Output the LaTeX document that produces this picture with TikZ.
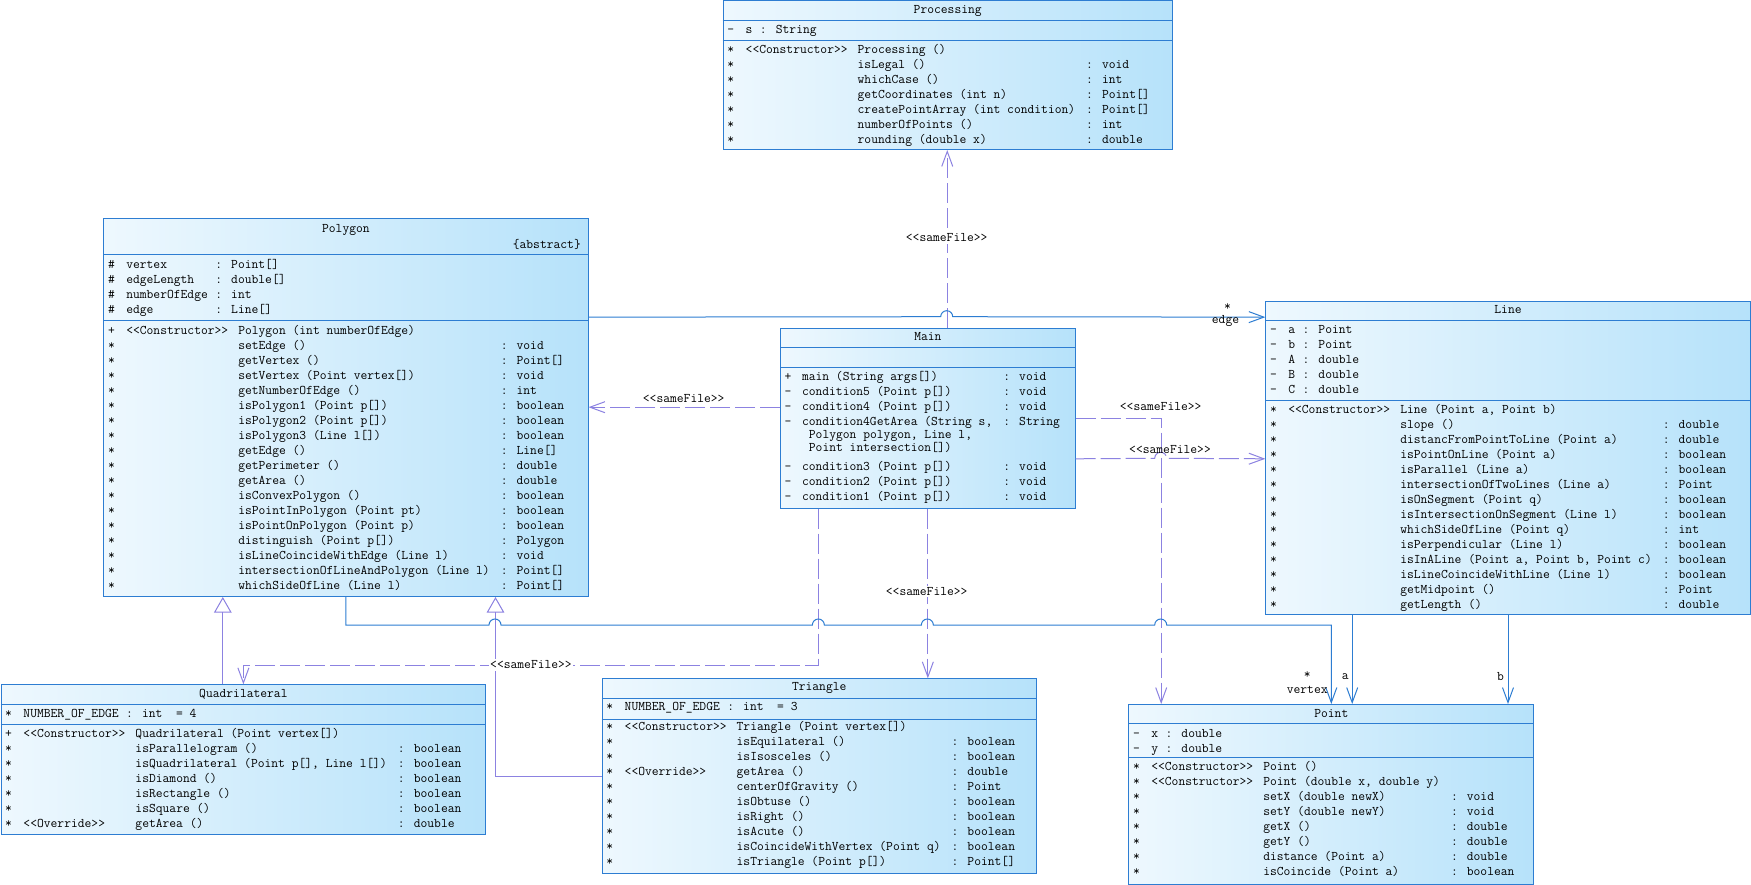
\documentclass[tikz,border=0pt]{standalone}
\usepackage{fontspec}
\usepackage{array}
\usetikzlibrary{arrows.meta}

\definecolor{boxblue}{RGB}{45,125,210}
\definecolor{deplav}{RGB}{140,130,225}
\definecolor{shadeL}{RGB}{238,248,254}
\definecolor{shadeR}{RGB}{182,226,250}

\newcommand{\umlfont}{\fontsize{13.2}{15}\selectfont\ttfamily}
% rows: visibility, stereotype, name, type
\newenvironment{mrows}{\begin{tabular}[t]{@{}l@{\hspace{11.5pt}}l@{\hspace{10pt}}l@{\hspace{11pt}}l@{}}}{\end{tabular}}
% rows without stereotype
\newenvironment{nrows}{\begin{tabular}[t]{@{}l@{\hspace{10.5pt}}l@{\hspace{11pt}}l@{}}}{\end{tabular}}
% attribute rows
\newenvironment{arows}{\begin{tabular}[t]{@{}l@{\hspace{11.5pt}}l@{\hspace{7.5pt}}l@{}}}{\end{tabular}}
\newcommand{\compsep}[2]{\draw[boxline] (#1.west |- 0,#2) -- (#1.east |- 0,#2);}
\newcommand{\st}{\relax*}

\tikzset{
  classbox/.style={draw=boxblue, line width=1pt, left color=shadeL, right color=shadeR, inner sep=0pt, anchor=north west},
  boxline/.style={boxblue, line width=1pt},
  crows/.style={anchor=base west, inner sep=0pt, font=\umlfont},
  ctitle/.style={anchor=base, inner sep=0pt, font=\umlfont},
  lab/.style={inner sep=1.5pt, font=\umlfont, text=black},
  dep/.style={deplav, line width=1pt, dash pattern=on 20pt off 5pt, -{Straight Barb[length=15pt,width=11pt]}},
  assoc/.style={boxblue, line width=1pt, -{Straight Barb[length=15pt,width=11pt]}},
  gen/.style={deplav, line width=1pt, -{Triangle[open,length=15.7pt,width=17.7pt]}}
}

\begin{document}
\begin{tikzpicture}[x=1pt,y=-1pt]
\fill[white] (0,0) rectangle (1751,885);
\useasboundingbox (0,0) rectangle (1751,885);

% Processing
\node[classbox, minimum width=449pt, minimum height=148.5pt] (proc) at (722.7,0.5) {};
\compsep{proc}{20.7}
\compsep{proc}{40.7}
\node[ctitle] at (proc.north |- 0,14) {Processing};
\node[crows] at ([xshift=4.5pt]proc.west |- 0,33.3) {\begin{arows} - & s & : String \end{arows}};
\node[crows] at ([xshift=4.5pt]proc.west |- 0,53.3) {\begin{mrows}
\st & <<Constructor>> & Processing () & \\
\st & & isLegal () & : void\\
\st & & whichCase () & : int\\
\st & & getCoordinates (int n) & : Point[]\\
\st & & createPointArray (int condition) & : Point[]\\
\st & & numberOfPoints () & : int\\
\st & & rounding (double x) & : double
\end{mrows}};

% Polygon
\node[classbox, minimum width=484.2pt, minimum height=377.7pt] (poly) at (103.3,218.3) {};
\compsep{poly}{254.3}
\compsep{poly}{321}
\node[ctitle] at (poly.north |- 0,232.3) {Polygon};
\node[crows, anchor=base east] at ([xshift=-7.5pt]poly.east |- 0,248.3) {\{abstract\}};
\node[crows] at ([xshift=4.5pt]poly.west |- 0,269) {\begin{arows}
\# & vertex & : Point[]\\
\# & edgeLength & : double[]\\
\# & numberOfEdge & : int\\
\# & edge & : Line[]
\end{arows}};
\node[crows] at ([xshift=4.5pt]poly.west |- 0,334.7) {\begin{mrows}
+ & <<Constructor>> & Polygon (int numberOfEdge) & \\
\st & & setEdge () & : void\\
\st & & getVertex () & : Point[]\\
\st & & setVertex (Point vertex[]) & : void\\
\st & & getNumberOfEdge () & : int\\
\st & & isPolygon1 (Point p[]) & : boolean\\
\st & & isPolygon2 (Point p[]) & : boolean\\
\st & & isPolygon3 (Line l[]) & : boolean\\
\st & & getEdge () & : Line[]\\
\st & & getPerimeter () & : double\\
\st & & getArea () & : double\\
\st & & isConvexPolygon () & : boolean\\
\st & & isPointInPolygon (Point pt) & : boolean\\
\st & & isPointOnPolygon (Point p) & : boolean\\
\st & & distinguish (Point p[]) & : Polygon\\
\st & & isLineCoincideWithEdge (Line l) & : void\\
\st & & intersectionOfLineAndPolygon (Line l) & : Point[]\\
\st & & whichSideOfLine (Line l) & : Point[]
\end{mrows}};

% Main
\node[classbox, minimum width=294.7pt, minimum height=180pt] (main) at (780,327.7) {};
\compsep{main}{347.3}
\compsep{main}{367.7}
\node[ctitle] at (main.north |- 0,340.7) {Main};
\node[crows] at ([xshift=4.5pt]main.west |- 0,380.7) {\begin{nrows}
+ & main (String args[]) & : void\\
- & condition5 (Point p[]) & : void\\
- & condition4 (Point p[]) & : void\\
- & condition4GetArea (String s, & : String\\[-2.3pt]
 & \hspace*{6.93pt}Polygon polygon, Line l, & \\[-2.3pt]
 & \hspace*{6.93pt}Point intersection[]) & \\[4pt]
- & condition3 (Point p[]) & : void\\
- & condition2 (Point p[]) & : void\\
- & condition1 (Point p[]) & : void
\end{nrows}};

% Line
\node[classbox, minimum width=484.4pt, minimum height=313.6pt] (line) at (1265.3,300.7) {};
\compsep{line}{320.7}
\compsep{line}{400}
\node[ctitle] at (line.north |- 0,314) {Line};
\node[crows] at ([xshift=4.5pt]line.west |- 0,334) {\begin{arows}
- & a & : Point\\
- & b & : Point\\
- & A & : double\\
- & B & : double\\
- & C & : double
\end{arows}};
\node[crows] at ([xshift=4.5pt]line.west |- 0,413.3) {\begin{mrows}
\st & <<Constructor>> & Line (Point a, Point b) & \\
\st & & slope () & : double\\
\st & & distancFromPointToLine (Point a) & : double\\
\st & & isPointOnLine (Point a) & : boolean\\
\st & & isParallel (Line a) & : boolean\\
\st & & intersectionOfTwoLines (Line a) & : Point\\
\st & & isOnSegment (Point q) & : boolean\\
\st & & isIntersectionOnSegment (Line l) & : boolean\\
\st & & whichSideOfLine (Point q) & : int\\
\st & & isPerpendicular (Line l) & : boolean\\
\st & & isInALine (Point a, Point b, Point c) & : boolean\\
\st & & isLineCoincideWithLine (Line l) & : boolean\\
\st & & getMidpoint () & : Point\\
\st & & getLength () & : double
\end{mrows}};

% Point
\node[classbox, minimum width=405pt, minimum height=180pt] (pnt) at (1128.3,704) {};
\compsep{pnt}{723.3}
\compsep{pnt}{757.3}
\node[ctitle] at (pnt.north |- 0,717.3) {Point};
\node[crows] at ([xshift=4.5pt]pnt.west |- 0,737.3) {\begin{arows}
- & x & : double\\
- & y & : double
\end{arows}};
\node[crows] at ([xshift=4.5pt]pnt.west |- 0,770.7) {\begin{mrows}
\st & <<Constructor>> & Point () & \\
\st & <<Constructor>> & Point (double x, double y) & \\
\st & & setX (double newX) & : void\\
\st & & setY (double newY) & : void\\
\st & & getX () & : double\\
\st & & getY () & : double\\
\st & & distance (Point a) & : double\\
\st & & isCoincide (Point a) & : boolean
\end{mrows}};

% Quadrilateral
\node[classbox, minimum width=484.8pt, minimum height=150pt] (quad) at (0.5,684.3) {};
\compsep{quad}{704.3}
\compsep{quad}{724.3}
\node[ctitle] at (quad.north |- 0,697.3) {Quadrilateral};
\node[crows] at ([xshift=4.5pt]quad.west |- 0,717.3) {\begin{arows}
\st & NUMBER\_OF\_EDGE & : int\ \ = 4
\end{arows}};
\node[crows] at ([xshift=4.5pt]quad.west |- 0,737.3) {\begin{mrows}
+ & <<Constructor>> & Quadrilateral (Point vertex[]) & \\
\st & & isParallelogram () & : boolean\\
\st & & isQuadrilateral (Point p[], Line l[]) & : boolean\\
\st & & isDiamond () & : boolean\\
\st & & isRectangle () & : boolean\\
\st & & isSquare () & : boolean\\
\st & <<Override>> & getArea () & : double
\end{mrows}};

% Triangle
\node[classbox, minimum width=434pt, minimum height=195pt] (tri) at (601.7,678.3) {};
\compsep{tri}{698.3}
\compsep{tri}{719}
\node[ctitle] at (tri.north |- 0,690.7) {Triangle};
\node[crows] at ([xshift=4.5pt]tri.west |- 0,710.7) {\begin{arows}
\st & NUMBER\_OF\_EDGE & : int\ \ = 3
\end{arows}};
\node[crows] at ([xshift=4.5pt]tri.west |- 0,730.7) {\begin{mrows}
\st & <<Constructor>> & Triangle (Point vertex[]) & \\
\st & & isEquilateral () & : boolean\\
\st & & isIsosceles () & : boolean\\
\st & <<Override>> & getArea () & : double\\
\st & & centerOfGravity () & : Point\\
\st & & isObtuse () & : boolean\\
\st & & isRight () & : boolean\\
\st & & isAcute () & : boolean\\
\st & & isCoincideWithVertex (Point q) & : boolean\\
\st & & isTriangle (Point p[]) & : Point[]
\end{mrows}};

% Dependencies <<sameFile>>
\draw[dep] ([xshift=19.4pt]main.north) -- ([xshift=19.4pt]main.north |- proc.south);
\draw[dep] ([yshift=11pt]main.west) -- ([yshift=11pt]main.west -| poly.east);
\draw[dep] (main.east) -| ([xshift=-170.1pt]pnt.north);
\draw[dep] ([yshift=-40.6pt]main.east) -- (1154.7,458.3) arc (180:360:6) -- ([yshift=-40.6pt]main.east -| line.west);
\draw[dep] (main.south) -- (main.south |- tri.north);
\draw[dep] ([xshift=-109pt]main.south) |- ([yshift=19.3pt]quad.north) -- (quad.north);

% Generalizations
\draw[gen] ([xshift=-20.6pt]quad.north) -- ([xshift=-20.6pt]quad.north |- poly.south);
\draw[gen] (tri.west) -| ([xshift=149.6pt]poly.south);

% Associations
\draw[assoc] ([yshift=90.5pt]poly.east) -- (940.7,316.7) arc (180:360:6) -- ([yshift=90.5pt]poly.east -| line.west);
\draw[assoc] (poly.south) |- (489,625) arc (180:360:6) -- (812.35,625) arc (180:360:6)
  -- (921.35,625) arc (180:360:6) -- (1154.7,625) arc (180:360:6) -- (pnt.north |- 0,625) -- (pnt.north);
\draw[assoc] ([xshift=-155.8pt]line.south) -- ([xshift=-155.8pt]line.south |- pnt.north)
  node[lab, at end, xshift=-7pt, yshift=27.3pt] {a};
\draw[assoc] (line.south) -- (line.south |- pnt.north)
  node[lab, at end, xshift=-7.5pt, yshift=27.3pt] {b};

% Labels
\node[lab, fill=white] (sf1) at (946.7,238) {<<sameFile>>};
\node[lab] (sf2) at (683.7,398.3) {<<sameFile>>};
\node[lab] (sf3) at (1160.7,406.7) {<<sameFile>>};
\node[lab] (sf4) at (1170,449.3) {<<sameFile>>};
\node[lab, fill=white] (sf5) at (926.7,591.7) {<<sameFile>>};
\node[lab, fill=white] (sf6) at (531,665) {<<sameFile>>};
\node[lab] (edgeM) at ([xshift=-37.7pt,yshift=10pt]line.west |- 0,316.7) {*};
\node[lab] (edgeR) at ([xshift=-39.8pt,yshift=-4pt]line.west |- 0,316.7) {edge};
\node[lab] (vertM) at ([xshift=-24.1pt,yshift=29pt]pnt.north) {*};
\node[lab] (vertR) at ([xshift=-24.1pt,yshift=14pt]pnt.north) {vertex};
\end{tikzpicture}
\end{document}
